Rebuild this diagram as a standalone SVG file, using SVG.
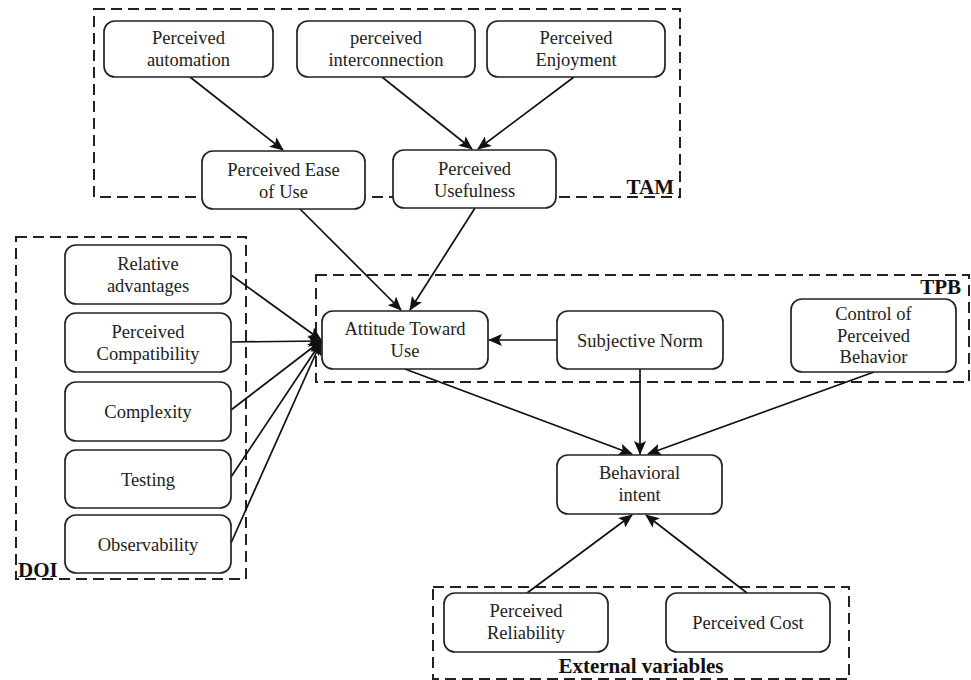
<svg xmlns="http://www.w3.org/2000/svg" width="971" height="680" viewBox="0 0 971 680">
<style>
.grp{fill:none;stroke:#222;stroke-width:2;stroke-dasharray:11 6}
.node rect{fill:#fff;stroke:#222;stroke-width:1.7}
.node text{font-family:"Liberation Serif","Times New Roman",serif;font-size:18.5px;fill:#222;text-anchor:middle}
.lbl{font-family:"Liberation Serif","Times New Roman",serif;font-size:21px;font-weight:bold;fill:#111}
#connectors line{stroke:#111;stroke-width:1.7;marker-end:url(#arr)}
</style>
<defs>
<marker id="arr" markerUnits="userSpaceOnUse" markerWidth="14" markerHeight="12" viewBox="0 0 14 12" refX="13" refY="6" orient="auto">
<path d="M0,0 L14,6 L0,12 L3,6 z" fill="#111"/>
</marker>
</defs>
<rect width="971" height="680" fill="#fff"/>
<g id="groups">
<rect class="grp" x="94" y="9" width="586" height="188"/>
<rect class="grp" x="16" y="237" width="230" height="342"/>
<rect class="grp" x="316" y="275" width="653" height="107"/>
<rect class="grp" x="433" y="587" width="416" height="92"/>
</g>
<g id="connectors">
<line x1="190" y1="77" x2="283" y2="150"/>
<line x1="382" y1="77" x2="472" y2="149"/>
<line x1="574" y1="77" x2="478" y2="149"/>
<line x1="300" y1="209" x2="401" y2="310"/>
<line x1="475" y1="208" x2="410" y2="310"/>
<line x1="231" y1="275" x2="321" y2="340"/>
<line x1="231" y1="342" x2="321" y2="341"/>
<line x1="231" y1="410" x2="321" y2="341"/>
<line x1="231" y1="477" x2="321" y2="342"/>
<line x1="231" y1="543" x2="321" y2="342"/>
<line x1="557" y1="340" x2="489" y2="340"/>
<line x1="405" y1="369" x2="632" y2="454"/>
<line x1="640" y1="369" x2="640" y2="454"/>
<line x1="874" y1="372" x2="648" y2="454"/>
<line x1="527" y1="593" x2="632" y2="515"/>
<line x1="747" y1="593" x2="646" y2="515"/>
</g>
<g id="n_pa" class="node"><rect x="104" y="21" width="169" height="56" rx="11"/><text x="188.5" y="44">Perceived</text><text x="188.5" y="66">automation</text></g>
<g id="n_pi" class="node"><rect x="297" y="21" width="178" height="56" rx="11"/><text x="386" y="44">perceived</text><text x="386" y="66">interconnection</text></g>
<g id="n_pe" class="node"><rect x="487" y="21" width="178" height="56" rx="11"/><text x="576" y="44">Perceived</text><text x="576" y="66">Enjoyment</text></g>
<g id="n_peou" class="node"><rect x="202" y="151" width="163" height="58" rx="11"/><text x="283.5" y="176">Perceived Ease</text><text x="283.5" y="198">of Use</text></g>
<g id="n_pu" class="node"><rect x="393" y="150" width="163" height="58" rx="11"/><text x="474.5" y="175">Perceived</text><text x="474.5" y="197">Usefulness</text></g>
<g id="n_ra" class="node"><rect x="65" y="245" width="166" height="59" rx="11"/><text x="148" y="270">Relative</text><text x="148" y="292">advantages</text></g>
<g id="n_pc" class="node"><rect x="65" y="313" width="166" height="59" rx="11"/><text x="148" y="338">Perceived</text><text x="148" y="360">Compatibility</text></g>
<g id="n_cx" class="node"><rect x="65" y="382" width="166" height="59" rx="11"/><text x="148" y="418">Complexity</text></g>
<g id="n_te" class="node"><rect x="65" y="450" width="166" height="58" rx="11"/><text x="148" y="486">Testing</text></g>
<g id="n_ob" class="node"><rect x="65" y="515" width="166" height="58" rx="11"/><text x="148" y="551">Observability</text></g>
<g id="n_att" class="node"><rect x="322" y="311" width="166" height="58" rx="11"/><text x="405" y="335">Attitude Toward</text><text x="405" y="357">Use</text></g>
<g id="n_sn" class="node"><rect x="557" y="311" width="166" height="58" rx="11"/><text x="640" y="347">Subjective Norm</text></g>
<g id="n_cpb" class="node"><rect x="791" y="299" width="165" height="73" rx="11"/><text x="873.5" y="320">Control of</text><text x="873.5" y="342">Perceived</text><text x="873.5" y="363">Behavior</text></g>
<g id="n_bi" class="node"><rect x="557" y="455" width="165" height="59" rx="11"/><text x="639.5" y="479">Behavioral</text><text x="639.5" y="501">intent</text></g>
<g id="n_rel" class="node"><rect x="444" y="593" width="164" height="59" rx="11"/><text x="526" y="617">Perceived</text><text x="526" y="639">Reliability</text></g>
<g id="n_cost" class="node"><rect x="666" y="593" width="164" height="59" rx="11"/><text x="748" y="629">Perceived Cost</text></g>
<g id="labels">
<text class="lbl" x="674" y="194" text-anchor="end">TAM</text>
<text class="lbl" x="18" y="577">DOI</text>
<text class="lbl" x="961" y="294" text-anchor="end">TPB</text>
<text class="lbl" x="641" y="673" text-anchor="middle">External variables</text>
</g>
</svg>
